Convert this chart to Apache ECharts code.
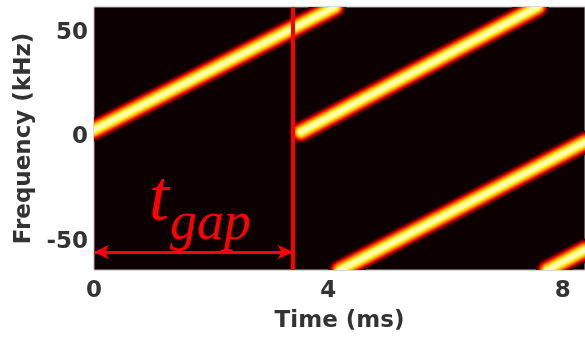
<!DOCTYPE html>
<html>
    <head>
        <meta charset="UTF-8">
        <style>
            html, body { margin: 0; padding: 0; background: #ffffff; }
        </style>
    </head>
    <body>
        <div id="chart" style="width: 585px;height:340px;"></div>
        <script src="https://cdn.jsdelivr.net/npm/echarts@6.0.0/dist/echarts.min.js"></script>
        <script type="text/javascript">
            // tick labels
            let timeTicks = [0, 4, 8];
            let freqTicks = [-50, 0, 50];

            // chirps: start time, start freq, end time, end freq (ms, kHz)
            let chirpStartT = [0, 3.53, 4.20, 7.74];
            let chirpStartF = [3.6, 2.6, -63.4, -63.4];
            let chirpEndT = [4.11, 7.57, 8.38, 8.38];
            let chirpEndF = [62.4, 62.4, -2.2, -53.8];

            // gap marker
            let tGap = 3.39;
            let arrowFreq = -54.8;

            // glow layers (outer -> core), like the "hot" colour map
            let layers = [
                {width: 23, color: '#2a0000'},
                {width: 21, color: '#600000'},
                {width: 19, color: '#a00000'},
                {width: 17, color: '#dc0800'},
                {width: 15, color: '#ff3800'},
                {width: 13, color: '#ff7800'},
                {width: 11, color: '#ffb000'},
                {width: 9, color: '#ffe020'},
                {width: 6, color: '#ffff70'},
                {width: 3, color: '#ffffb8'}
            ];

            let chirpData = [];
            for (let i = 0; i < chirpStartT.length; i++) {
                chirpData.push([chirpStartT[i], chirpStartF[i], chirpEndT[i], chirpEndF[i]]);
            }

            function renderChirp(params, api) {
                let p0 = api.coord([api.value(0), api.value(1)]);
                let p1 = api.coord([api.value(2), api.value(3)]);
                let children = [];
                for (let k = 0; k < layers.length; k++) {
                    children.push({
                        type: 'line',
                        shape: {x1: p0[0], y1: p0[1], x2: p1[0], y2: p1[1]},
                        style: {stroke: layers[k].color, lineWidth: layers[k].width, lineCap: 'round'}
                    });
                }
                return {type: 'group', children: children};
            }

            let chart = echarts.init(document.getElementById('chart'));

            let option = {
                animation: false,
                grid: {
                    left: 94, right: 0, top: 7, bottom: 70,
                    show: true,
                    backgroundColor: '#0d0000',
                    borderColor: '#b4b4b4',
                    borderWidth: 1
                },
                xAxis: {
                    type: 'value',
                    min: 0,
                    max: 8.38,
                    name: 'Time (ms)',
                    nameLocation: 'middle',
                    nameGap: 40,
                    nameTextStyle: {fontFamily: 'DejaVu Sans', fontWeight: 'bold', fontSize: 23, color: '#333'},
                    axisLine: {show: false},
                    axisTick: {show: false},
                    splitLine: {show: false},
                    axisLabel: {
                        customValues: timeTicks,
                        margin: 10,
                        fontFamily: 'DejaVu Sans', fontWeight: 'bold', fontSize: 23, color: '#333'
                    }
                },
                yAxis: {
                    type: 'value',
                    min: -63.4,
                    max: 62.4,
                    name: 'Frequency (kHz)',
                    nameLocation: 'middle',
                    nameGap: 45,
                    nameTextStyle: {fontFamily: 'DejaVu Sans', fontWeight: 'bold', fontSize: 23, color: '#333'},
                    axisLine: {show: false},
                    axisTick: {show: false},
                    splitLine: {show: false},
                    axisLabel: {
                        customValues: freqTicks,
                        margin: 6,
                        fontFamily: 'DejaVu Sans', fontWeight: 'bold', fontSize: 23, color: '#333'
                    }
                },
                graphic: [
                    {
                        type: 'text', left: 149, top: 165, z: 100,
                        style: {text: 't', font: 'italic 72px "Liberation Serif"', fill: '#ff0000'}
                    },
                    {
                        type: 'text', left: 170, top: 198, z: 100,
                        style: {text: 'gap', font: 'italic 54px "Liberation Serif"', fill: '#ff0000'}
                    }
                ],
                series: [
                    {
                        type: 'custom',
                        renderItem: renderChirp,
                        data: chirpData,
                        clip: true,
                        silent: true,
                        z: 2
                    },
                    {
                        // t_gap vertical line
                        type: 'line',
                        data: [],
                        z: 20,
                        markLine: {
                            silent: true,
                            animation: false,
                            symbol: 'none',
                            label: {show: false},
                            data: [{xAxis: tGap}],
                            lineStyle: {color: '#ff0000', width: 4, type: 'solid'}
                        }
                    },
                    {
                        // double arrow
                        type: 'line',
                        data: [],
                        z: 20,
                        markLine: {
                            silent: true,
                            animation: false,
                            label: {show: false},
                            data: [[{coord: [0, arrowFreq]}, {coord: [tGap, arrowFreq]}]],
                            symbol: ['arrow', 'arrow'],
                            symbolSize: [11, 15],
                            lineStyle: {color: '#ff0000', width: 3, type: 'solid'}
                        }
                    }
                ]
            };
            chart.setOption(option);
        </script>
    </body>
</html>
